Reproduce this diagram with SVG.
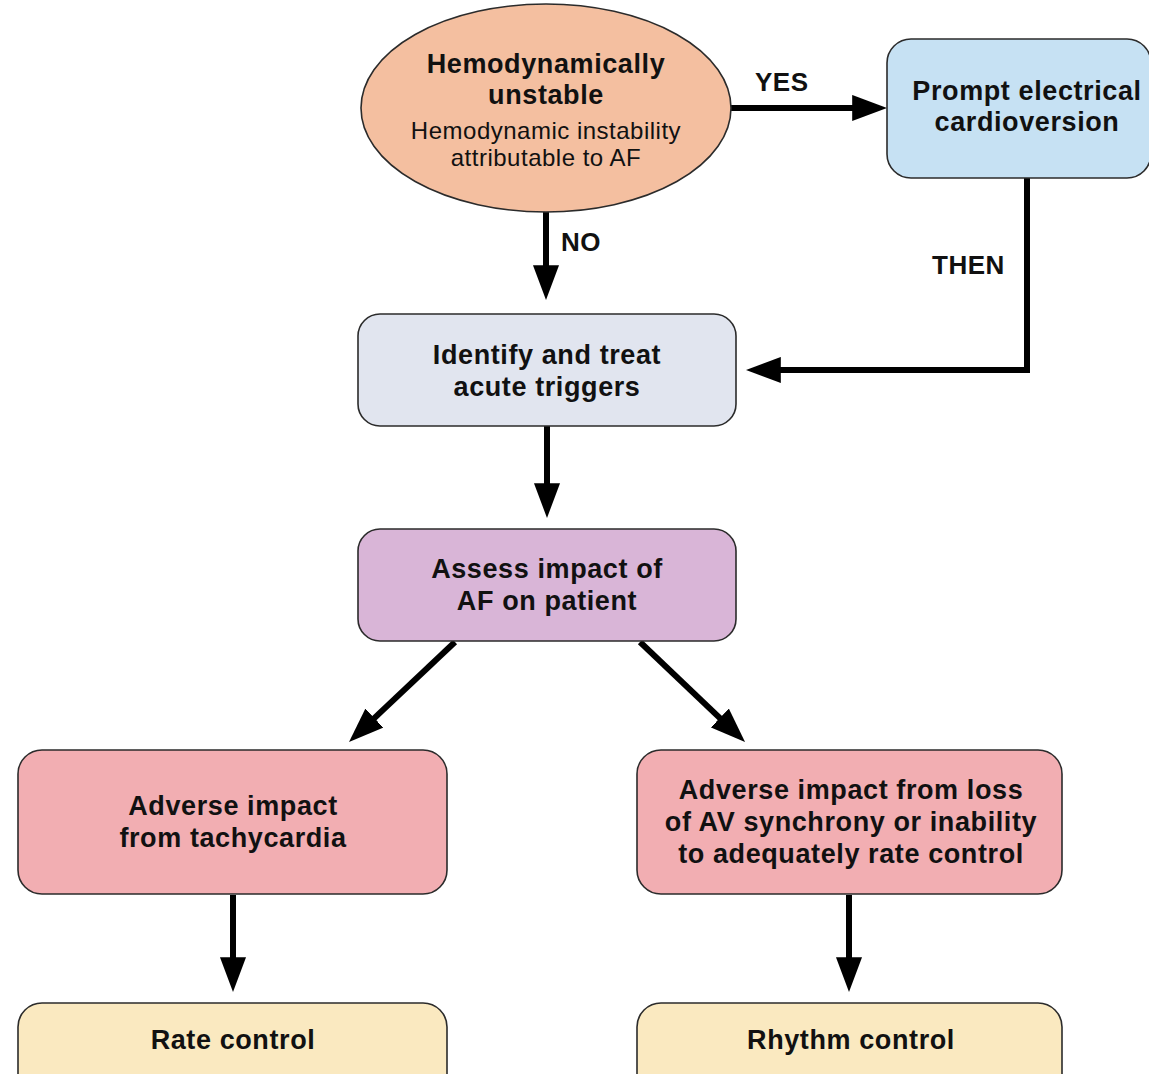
<svg xmlns="http://www.w3.org/2000/svg" width="1149" height="1074" viewBox="0 0 1149 1074">
  <style>
    .box { stroke: #2b2b2b; stroke-width: 1.6; }
    .t { font-family: "Liberation Sans", Arial, sans-serif; font-weight: bold; font-size: 27px; letter-spacing: 0.6px; fill: #111; text-anchor: middle; }
    .s { font-family: "Liberation Sans", Arial, sans-serif; font-size: 24px; letter-spacing: 0.5px; fill: #111; text-anchor: middle; }
    .lbl { font-family: "Liberation Sans", Arial, sans-serif; font-weight: bold; font-size: 26px; letter-spacing: 0.5px; fill: #111; }
    .wire { fill: none; stroke: #000; stroke-width: 6; }
  </style>
  <defs>
    <!-- arrowhead: tip sits 10px beyond the end of each line -->
    <marker id="arrow" viewBox="0 0 12 9" refX="8.55" refY="4.5" markerWidth="5.8" markerHeight="4.5" markerUnits="strokeWidth" orient="auto">
      <path d="M0,0 L12,4.5 L0,9 Z" fill="#000"/>
    </marker>
  </defs>
  <rect width="1149" height="1074" fill="#fff"/>

  <!-- connectors -->
  <g id="connectors">
    <line class="wire" x1="731" y1="108" x2="877" y2="108" marker-end="url(#arrow)"/>
    <line class="wire" x1="546" y1="212" x2="546" y2="290" marker-end="url(#arrow)"/>
    <polyline class="wire" points="1027,178 1027,370 756,370" marker-end="url(#arrow)"/>
    <line class="wire" x1="547" y1="426" x2="547" y2="508" marker-end="url(#arrow)"/>
    <line class="wire" x1="455" y1="642" x2="356.3" y2="735.1" marker-end="url(#arrow)"/>
    <line class="wire" x1="640" y1="642" x2="737.8" y2="735.1" marker-end="url(#arrow)"/>
    <line class="wire" x1="233" y1="895" x2="233" y2="982" marker-end="url(#arrow)"/>
    <line class="wire" x1="849" y1="895" x2="849" y2="982" marker-end="url(#arrow)"/>
    <text class="lbl" x="755" y="91">YES</text>
    <text class="lbl" x="561" y="251">NO</text>
    <text class="lbl" x="932" y="274">THEN</text>
  </g>

  <g id="unstable">
    <ellipse class="box" cx="546" cy="108" rx="185" ry="104" fill="#F4BFA0"/>
    <text class="t" x="546" y="73">Hemodynamically</text>
    <text class="t" x="546" y="104">unstable</text>
    <text class="s" x="546" y="139">Hemodynamic instability</text>
    <text class="s" x="546" y="166">attributable to AF</text>
  </g>

  <g id="cardioversion">
    <rect class="box" x="887" y="39" width="264" height="139" rx="24" fill="#C6E1F3"/>
    <text class="t" x="1027" y="100">Prompt electrical</text>
    <text class="t" x="1027" y="131">cardioversion</text>
  </g>

  <g id="triggers">
    <rect class="box" x="358" y="314" width="378" height="112" rx="22" fill="#E1E5EF"/>
    <text class="t" x="547" y="364">Identify and treat</text>
    <text class="t" x="547" y="396">acute triggers</text>
  </g>

  <g id="assess">
    <rect class="box" x="358" y="529" width="378" height="112" rx="22" fill="#D9B5D7"/>
    <text class="t" x="547" y="578">Assess impact of</text>
    <text class="t" x="547" y="610">AF on patient</text>
  </g>

  <g id="tachycardia">
    <rect class="box" x="18" y="750" width="429" height="144" rx="24" fill="#F2AEB2"/>
    <text class="t" x="233" y="815">Adverse impact</text>
    <text class="t" x="233" y="847">from tachycardia</text>
  </g>

  <g id="av-synchrony">
    <rect class="box" x="637" y="750" width="425" height="144" rx="24" fill="#F2AEB2"/>
    <text class="t" x="851" y="799">Adverse impact from loss</text>
    <text class="t" x="851" y="831">of AV synchrony or inability</text>
    <text class="t" x="851" y="863">to adequately rate control</text>
  </g>

  <g id="rate-control">
    <rect class="box" x="18" y="1003" width="429" height="100" rx="24" fill="#FAE9C0"/>
    <text class="t" x="233" y="1049">Rate control</text>
  </g>

  <g id="rhythm-control">
    <rect class="box" x="637" y="1003" width="425" height="100" rx="24" fill="#FAE9C0"/>
    <text class="t" x="851" y="1049">Rhythm control</text>
  </g>
</svg>
